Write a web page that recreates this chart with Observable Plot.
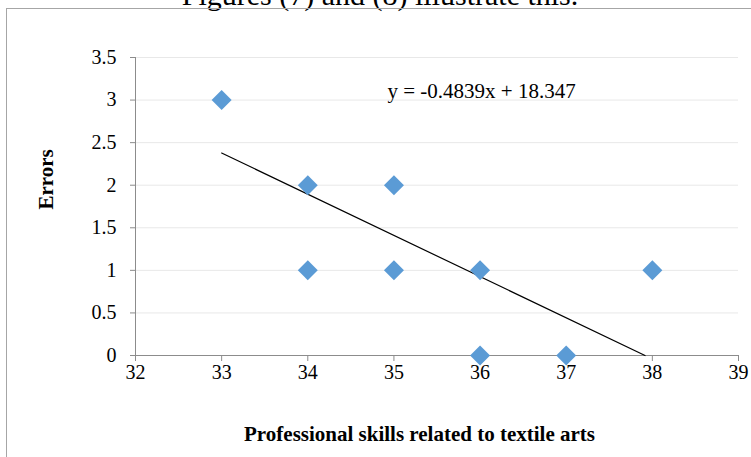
<!DOCTYPE html>
<html>
<head>
<meta charset="utf-8">
<script src="https://cdn.jsdelivr.net/npm/d3@7"></script>
<script src="https://cdn.jsdelivr.net/npm/@observablehq/plot@0.6"></script>
<style>
  html, body { margin: 0; padding: 0; background: #fff; overflow: hidden; }
  #wrap { position: relative; width: 751px; height: 457px; overflow: hidden; }
  #frame { position: absolute; left: 6px; top: 8px; width: 800px; height: 500px; border: 1px solid #a6a6a6; box-sizing: border-box; pointer-events: none; }
  #above { position: absolute; left: 0; width: 760px; top: -20px; text-align: center; font: 30px "Liberation Serif", "Times New Roman", serif; line-height: 30px; color: #000; white-space: nowrap; }
  #chart { position: absolute; left: 0; top: 0; }
  #chart svg text { font-family: "Liberation Serif", "Times New Roman", serif; }
</style>
</head>
<body>
<div id="wrap">
  <div id="above">Figures (7) and (8) illustrate this.</div>
  <div id="frame"></div>
  <div id="chart"></div>
</div>
<script>
const skills = [33, 34, 34, 35, 35, 36, 36, 37, 38];
const errors = [3, 2, 1, 2, 1, 1, 0, 0, 1];
const xTicks = [32, 33, 34, 35, 36, 37, 38, 39];
const yTicks = [0, 0.5, 1, 1.5, 2, 2.5, 3, 3.5];
const trendSlope = -0.4839;
const trendIntercept = 18.347;
const equationLabel = "y = -0.4839x + 18.347";
const xTitle = "Professional skills related to textile arts";
const yTitle = "Errors";

const points = skills.map((x, i) => ({x, y: errors[i]}));
const xStart = d3.min(skills);
const xEnd = -trendIntercept / trendSlope; // trend line clipped where it meets y = 0 (axis minimum)
const trend = [xStart, xEnd].map(x => ({x, y: trendSlope * x + trendIntercept}));

const font = '"Liberation Serif", "Times New Roman", serif';

const chart = Plot.plot({
  width: 751,
  height: 457,
  marginLeft: 135,
  marginRight: 13,
  marginTop: 57,
  marginBottom: 102,
  style: {fontFamily: font, fontSize: "20px", color: "#000", background: "transparent"},
  x: {domain: [32, 39], ticks: xTicks, label: null},
  y: {domain: [0, 3.5], ticks: yTicks, label: null},
  marks: [
    Plot.gridY(yTicks.filter(d => d > 0), {stroke: "#e8e8e8", strokeOpacity: 1}),
    Plot.ruleY([0], {stroke: "#8c8c8c"}),
    Plot.ruleX([32], {stroke: "#8c8c8c"}),
    Plot.axisX({ticks: xTicks, tickSize: 6, tickPadding: 3, stroke: "#8c8c8c", fill: "#000", fontSize: 20, fontFamily: font, label: null, tickFormat: d => String(d)}),
    Plot.axisY({ticks: yTicks, tickSize: 5, tickPadding: 14, stroke: "#8c8c8c", fill: "#000", fontSize: 20, fontFamily: font, label: null, tickFormat: d => String(d)}),
    Plot.line(trend, {x: "x", y: "y", stroke: "#000", strokeWidth: 1.2}),
    Plot.dot(points, {x: "x", y: "y", symbol: "diamond2", r: 9, fill: "#5b9bd5", stroke: "none"}),
    Plot.text([equationLabel], {frameAnchor: "top-left", dx: 252, dy: 34, text: d => d, fontSize: 21, fontFamily: font, fill: "#000", textAnchor: "start", lineAnchor: "middle"}),
    Plot.text([xTitle], {frameAnchor: "bottom", dx: -17.5, dy: 79, text: d => d, fontSize: 21, fontFamily: font, fontWeight: "bold", fill: "#000", lineAnchor: "middle"}),
    Plot.text([yTitle], {frameAnchor: "left", dx: -89, dy: 3, rotate: -90, text: d => d, fontSize: 21, fontFamily: font, fontWeight: "bold", fill: "#000", lineAnchor: "middle"})
  ]
});
document.getElementById("chart").appendChild(chart);
</script>
</body>
</html>
